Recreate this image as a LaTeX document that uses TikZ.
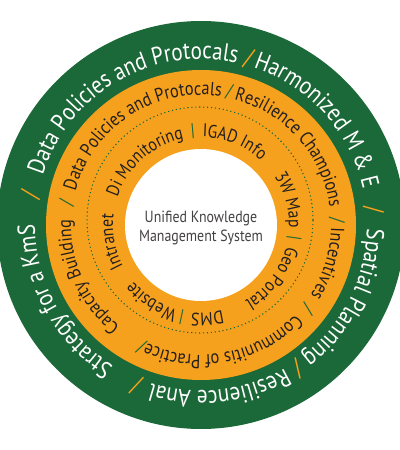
\documentclass[tikz,border=0pt]{standalone}
\usepackage{fontspec}
\setmainfont{PT Sans}[FakeStretch=0.86]
\usetikzlibrary{decorations.text}
\definecolor{kmgreen}{RGB}{27,104,56}
\definecolor{kmorange}{RGB}{246,161,29}
\definecolor{kmink}{RGB}{35,31,32}

\newcommand\outerfmt{\fontsize{17.5}{19}\selectfont\color{white}}
\newcommand\midfmt{\fontsize{13.5}{15}\selectfont\color{kmink}}
\newcommand\innerfmt{\fontsize{13}{15}\selectfont\color{kmink}}
% radius, centre angle, format, text (clockwise, tops outward)
\newcommand\ringtext[4]{%
  \path[decorate,decoration={text along path,text align=center,text={|#3|#4}}]
    ({#2+80}:#1) arc[start angle={#2+80},end angle={#2-80},radius=#1];}

\begin{document}
\begin{tikzpicture}[x=0.025cm,y=0.025cm,
  sepout/.style={text=kmorange,font=\fontsize{17.5}{19}\selectfont},
  sepmid/.style={text=kmgreen,font=\fontsize{13.5}{15}\selectfont},
  sepin/.style={text=kmgreen,font=\fontsize{13}{15}\selectfont}]
  \useasboundingbox (0,0) rectangle (400,450);
  \clip (0,0) rectangle (400,450);
  \begin{scope}[shift={(201,225)}]
    \fill[kmgreen] (0,0) circle (204);
    \fill[kmorange] (0,0) circle (155);
    \draw[kmgreen,dotted,line width=0.8pt] (-1,5) circle (113);
    \fill[white] (0,0) circle (76);
    \node[align=center,text=kmink!85,font=\fontsize{11.5}{14}\selectfont] (core) at (0,-3)
      {Unified Knowledge\\Management System};

    % outer ring
    \ringtext{166}{120}{\outerfmt}{Data Policies and Protocals}
    \ringtext{166}{42}{\outerfmt}{Harmonized M {\&} E}
    \ringtext{166}{-27}{\outerfmt}{Spatial Planning}
    \ringtext{166}{-83.5}{\outerfmt}{Resilience Anal}
    \ringtext{166}{209}{\outerfmt}{Strategy for a KmS}
    \foreach \a [count=\k] in {74,5,-56,-112,170}
      \node[sepout,rotate=\a-90] (so\k) at (\a:173) {/};

    % middle ring
    \ringtext{130}{123}{\midfmt}{Data Policies and Protocals}
    \ringtext{130}{41.5}{\midfmt}{Resilience Champions}
    \ringtext{130}{-17}{\midfmt}{Incentives}
    \ringtext{130}{-79}{\midfmt}{Communitis of Practice}
    \ringtext{130}{204.5}{\midfmt}{Capacity Building}
    \foreach \a [count=\k] in {78,2,-38,-116,170.6}
      \node[sepmid,rotate=\a-90] (sm\k) at (\a:136) {/};

    % inner ring
    \ringtext{88}{131.5}{\innerfmt}{Di Monitoring}
    \ringtext{88}{68}{\innerfmt}{IGAD Info}
    \ringtext{88}{16}{\innerfmt}{3W Map}
    \ringtext{88}{-37}{\innerfmt}{Geo Portal}
    \ringtext{88}{-86}{\innerfmt}{DMS}
    \ringtext{88}{-123}{\innerfmt}{Website}
    \ringtext{88}{190.5}{\innerfmt}{Intranet}
    \foreach \a/\s [count=\k] in {95/|,40.7//,-8/|,-68.7//,-102/|,-146//,167//}
      \node[sepin,rotate=\a-90] (si\k) at (\a:94) {\s};
  \end{scope}
\end{tikzpicture}
\end{document}
